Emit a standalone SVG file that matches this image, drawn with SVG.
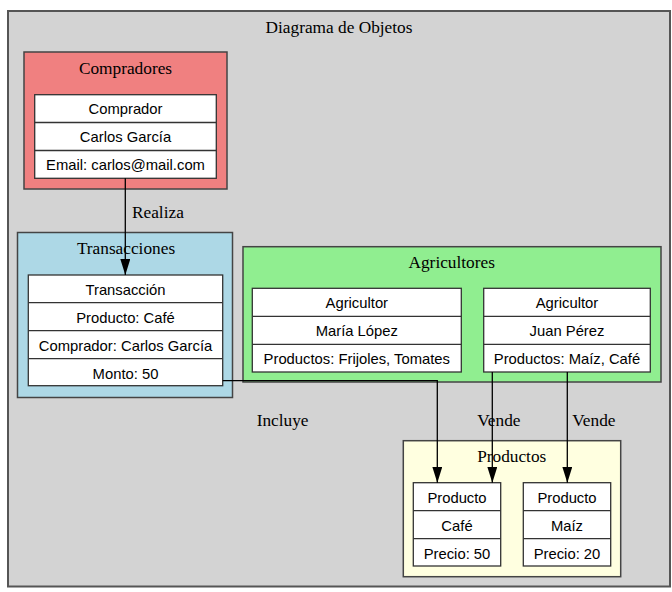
<svg xmlns="http://www.w3.org/2000/svg" width="672" height="592" viewBox="0 0 672 592">
<style>
.bg{fill:#ffffff}
.outer{fill:#d3d3d3;stroke:#555555;stroke-width:2}
.cl{stroke:#444444;stroke-width:1.5}
.node rect{fill:#ffffff;stroke:#333333;stroke-width:1.3}
.node line{stroke:#333333;stroke-width:1.3}
.ttl{font-family:"Liberation Serif","Times New Roman",serif;font-size:17.3px;fill:#000000;text-anchor:middle}
.lbl{font-family:"Liberation Serif","Times New Roman",serif;font-size:17.3px;fill:#000000}
.nt{font-family:"Liberation Sans",Arial,sans-serif;font-size:14.8px;fill:#000000;text-anchor:middle}
.edge{fill:none;stroke:#000000;stroke-width:1.3}
</style>
<defs>
<marker id="arr" viewBox="0 0 16 10" refX="16" refY="5" markerWidth="16" markerHeight="10" markerUnits="userSpaceOnUse" orient="auto">
<path d="M0,0 L16,5 L0,10 z" fill="#000000"/>
</marker>
</defs>
<rect class="bg" x="0" y="0" width="672" height="592"/>
<g id="graph">
<rect class="outer" x="8" y="11" width="662" height="575.5"/>
<text class="ttl" x="339" y="32.5">Diagrama de Objetos</text>
</g>
<g id="cluster_compradores">
<rect class="cl" x="24" y="52" width="203" height="137" fill="#f08080"/>
<text class="ttl" x="125.5" y="73.5">Compradores</text>
</g>
<g id="cluster_transacciones">
<rect class="cl" x="17.5" y="232.5" width="215" height="165" fill="#add8e6"/>
<text class="ttl" x="126" y="253.5">Transacciones</text>
</g>
<g id="cluster_agricultores">
<rect class="cl" x="243" y="246.7" width="418" height="135.3" fill="#90ee90"/>
<text class="ttl" x="451.7" y="267.5">Agricultores</text>
</g>
<g id="cluster_productos">
<rect class="cl" x="403.3" y="440.7" width="217.4" height="136" fill="#ffffe0"/>
<text class="ttl" x="511.7" y="461.7">Productos</text>
</g>
<g id="comprador" class="node">
<rect x="34.7" y="94.7" width="181.6" height="83.6"/>
<line x1="34.7" y1="122.5" x2="216.3" y2="122.5"/>
<line x1="34.7" y1="150.5" x2="216.3" y2="150.5"/>
<text class="nt" x="125.5" y="114">Comprador</text>
<text class="nt" x="125.5" y="142">Carlos García</text>
<text class="nt" x="125.5" y="170">Email: carlos@mail.com</text>
</g>
<g id="transaccion" class="node">
<rect x="28.3" y="275" width="194.4" height="110.7"/>
<line x1="28.3" y1="302.7" x2="222.7" y2="302.7"/>
<line x1="28.3" y1="330.7" x2="222.7" y2="330.7"/>
<line x1="28.3" y1="358.7" x2="222.7" y2="358.7"/>
<text class="nt" x="125.5" y="294.5">Transacción</text>
<text class="nt" x="125.5" y="322.5">Producto: Café</text>
<text class="nt" x="125.5" y="350.5">Comprador: Carlos García</text>
<text class="nt" x="125.5" y="378.5">Monto: 50</text>
</g>
<g id="agricultor_maria" class="node">
<rect x="252.3" y="288.3" width="209" height="83.7"/>
<line x1="252.3" y1="316.3" x2="461.3" y2="316.3"/>
<line x1="252.3" y1="344.3" x2="461.3" y2="344.3"/>
<text class="nt" x="356.8" y="308">Agricultor</text>
<text class="nt" x="356.8" y="336">María López</text>
<text class="nt" x="356.8" y="364">Productos: Frijoles, Tomates</text>
</g>
<g id="agricultor_juan" class="node">
<rect x="483.7" y="288.3" width="166.6" height="83.7"/>
<line x1="483.7" y1="316.3" x2="650.3" y2="316.3"/>
<line x1="483.7" y1="344.3" x2="650.3" y2="344.3"/>
<text class="nt" x="567" y="308">Agricultor</text>
<text class="nt" x="567" y="336">Juan Pérez</text>
<text class="nt" x="567" y="364">Productos: Maíz, Café</text>
</g>
<g id="producto_cafe" class="node">
<rect x="413.3" y="482.7" width="87.4" height="83.3"/>
<line x1="413.3" y1="510.7" x2="500.7" y2="510.7"/>
<line x1="413.3" y1="538.7" x2="500.7" y2="538.7"/>
<text class="nt" x="457" y="502.5">Producto</text>
<text class="nt" x="457" y="530.5">Café</text>
<text class="nt" x="457" y="558.5">Precio: 50</text>
</g>
<g id="producto_maiz" class="node">
<rect x="523.3" y="482.7" width="87.4" height="83.3"/>
<line x1="523.3" y1="510.7" x2="610.7" y2="510.7"/>
<line x1="523.3" y1="538.7" x2="610.7" y2="538.7"/>
<text class="nt" x="567" y="502.5">Producto</text>
<text class="nt" x="567" y="530.5">Maíz</text>
<text class="nt" x="567" y="558.5">Precio: 20</text>
</g>
<g id="edges">
<path class="edge" d="M125.3,178.3 V275" marker-end="url(#arr)"/>
<text class="lbl" x="132" y="217.5">Realiza</text>
<path class="edge" d="M222.7,380.7 H437.3 V482.7" marker-end="url(#arr)"/>
<text class="lbl" x="256.7" y="425.5">Incluye</text>
<path class="edge" d="M492.3,372 V482.7" marker-end="url(#arr)"/>
<text class="lbl" x="477.3" y="425.5">Vende</text>
<path class="edge" d="M567.3,372 V482.7" marker-end="url(#arr)"/>
<text class="lbl" x="572.3" y="425.5">Vende</text>
</g>
</svg>
